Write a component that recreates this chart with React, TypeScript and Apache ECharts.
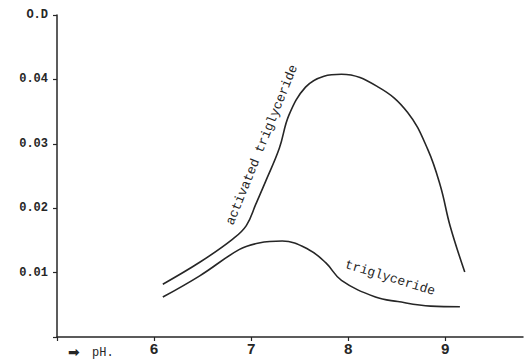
import React, { useEffect, useRef } from "react";
import * as echarts from "echarts";

const activatedTriglyceride: [number, number][] = [
  [6.09, 0.0082], [6.47, 0.0116], [6.81, 0.0152], [6.95, 0.0173], [7.05, 0.0207],
  [7.15, 0.0242], [7.29, 0.0293], [7.39, 0.0345], [7.56, 0.0388], [7.75, 0.0405],
  [7.93, 0.0408], [8.31, 0.0388], [8.61, 0.0349], [8.82, 0.0291], [8.95, 0.0234],
  [9.05, 0.0172], [9.2, 0.0101],
];

const triglyceride: [number, number][] = [
  [6.09, 0.0062], [6.47, 0.0095], [6.88, 0.0136], [7.08, 0.0146], [7.32, 0.0149],
  [7.59, 0.0136], [7.77, 0.0115], [7.93, 0.0088], [8.28, 0.0062], [8.51, 0.0055],
  [8.85, 0.0048], [9.15, 0.0047],
];

const xTickLabels = ["6", "7", "8", "9"];
const yTickLabels = ["0.01", "0.02", "0.03", "0.04", "O.D"];

const ink = "#262626";
const mono = "'Liberation Mono', 'DejaVu Sans Mono', monospace";

export default function App() {
  const ref = useRef<HTMLDivElement>(null);
  useEffect(() => {
    if (!ref.current) return;
    const chart = echarts.init(ref.current, null, { renderer: "svg" });
    chart.setOption({
      animation: false,
      backgroundColor: "#ffffff",
      grid: { left: 57, right: 7, top: 15, bottom: 27 },
      xAxis: {
        type: "value",
        min: 5,
        max: 9.8,
        interval: 1,
        splitLine: { show: false },
        axisLine: { show: true, lineStyle: { color: ink, width: 1.5 } },
        axisTick: { show: true, length: 4, lineStyle: { color: ink, width: 1.2 } },
        axisLabel: {
          color: ink,
          fontFamily: mono,
          fontSize: 15,
          fontWeight: "bold",
          margin: 6,
          showMaxLabel: false,
          formatter: (v: number) => {
            const i = Math.round(v) - 6;
            return Math.abs(v - Math.round(v)) < 1e-6 && i >= 0 && i < xTickLabels.length ? xTickLabels[i] : "";
          },
        },
      },
      yAxis: {
        type: "value",
        min: 0,
        max: 0.05,
        interval: 0.01,
        splitLine: { show: false },
        axisLine: { show: true, lineStyle: { color: ink, width: 1.5 } },
        axisTick: { show: true, length: 4, lineStyle: { color: ink, width: 1.2 } },
        axisLabel: {
          color: ink,
          fontFamily: mono,
          fontSize: 12,
          fontWeight: "bold",
          margin: 9,
          formatter: (v: number) => {
            const i = Math.round(v * 100) - 1;
            return i >= 0 && i < yTickLabels.length ? yTickLabels[i] : "";
          },
        },
      },
      series: [
        {
          name: "activated triglyceride",
          type: "line",
          data: activatedTriglyceride,
          smooth: 0.4,
          showSymbol: false,
          lineStyle: { color: ink, width: 1.6 },
        },
        {
          name: "triglyceride",
          type: "line",
          data: triglyceride,
          smooth: 0.4,
          showSymbol: false,
          lineStyle: { color: ink, width: 1.6 },
        },
      ],
      graphic: [
        {
          type: "text",
          x: 262,
          y: 145,
          rotation: (68 * Math.PI) / 180,
          style: {
            text: "activated triglyceride",
            fill: ink,
            font: `13px ${mono}`,
            align: "center",
            verticalAlign: "middle",
          },
        },
        {
          type: "text",
          x: 390,
          y: 278,
          rotation: (-17 * Math.PI) / 180,
          style: {
            text: "triglyceride",
            fill: ink,
            font: `13px ${mono}`,
            align: "center",
            verticalAlign: "middle",
          },
        },
        {
          type: "text",
          x: 68,
          y: 352,
          style: {
            text: "➡",
            fill: ink,
            font: "bold 14px 'DejaVu Sans'",
            align: "left",
            verticalAlign: "middle",
          },
        },
        {
          type: "text",
          x: 92,
          y: 353,
          style: {
            text: "pH.",
            fill: ink,
            font: `12px ${mono}`,
            align: "left",
            verticalAlign: "middle",
          },
        },
      ],
    });
    return () => chart.dispose();
  }, []);
  return (
    <div
      ref={ref}
      style={{ position: "fixed", left: 0, top: 0, width: 530, height: 364 }}
    />
  );
}
